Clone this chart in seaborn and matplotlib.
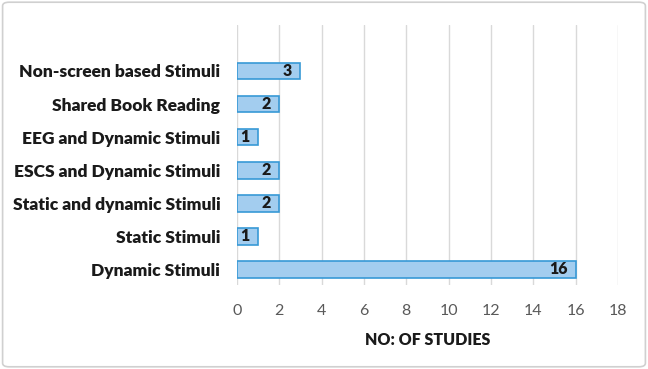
import matplotlib
matplotlib.use('Agg')
import matplotlib.pyplot as plt
import seaborn as sns
import pandas as pd
from matplotlib.patches import FancyBboxPatch

# 数据
categories = ['Non-screen based Stimuli', 'Shared Book Reading', 'EEG and Dynamic Stimuli',
              'ESCS and Dynamic Stimuli', 'Static and dynamic Stimuli', 'Static Stimuli',
              'Dynamic Stimuli']
counts = [3, 2, 1, 2, 2, 1, 16]
x_ticks = [0, 2, 4, 6, 8, 10, 12, 14, 16, 18]

sns.set_style('white')
plt.rcParams['font.family'] = ['Lato', 'DejaVu Sans']

df = pd.DataFrame({'cat': categories, 'n': counts})

fig = plt.figure(figsize=(6.48, 3.69), dpi=100)
ax = fig.add_axes([0.3657, 0.2276, 0.588, 0.7046])

sns.barplot(data=df, x='n', y='cat', orient='h', ax=ax, width=0.5,
            color='#a3cdef', edgecolor='#3799d6', linewidth=1.2, saturation=1)

ax.set_xlim(0, 18)
ax.set_ylim(6.47, -1.39)
ax.set_xticks(x_ticks)
ax.xaxis.grid(True, color='#d9d9d9', linewidth=1)
ax.set_axisbelow(True)
for s in ax.spines.values():
    s.set_visible(False)
ax.tick_params(axis='both', length=0)
ax.tick_params(axis='x', labelsize=11.5, labelcolor='#595959', pad=14)
ax.tick_params(axis='y', labelsize=12.5, labelcolor='#1a1a1a', pad=12)
for t in ax.get_yticklabels():
    t.set_fontweight('heavy')
ax.set_ylabel('')
ax.set_xlabel('NO: OF STUDIES', fontsize=11.5, fontweight='heavy', color='#1a1a1a', labelpad=10)

# 数值标签
for i, v in enumerate(counts):
    ax.annotate(str(v), (v, i), xytext=(-6, 0), textcoords='offset points',
                ha='right', va='center', fontsize=11.5, fontweight='heavy', color='#1a1a1a')

# 外框
border = FancyBboxPatch((0.004, 0.006), 0.992, 0.988, boxstyle='round,pad=0,rounding_size=0.01',
                        transform=fig.transFigure, fill=False, edgecolor='#d0d0d0', linewidth=1.2)
fig.patches.append(border)

fig.savefig('out.png', dpi=100)
